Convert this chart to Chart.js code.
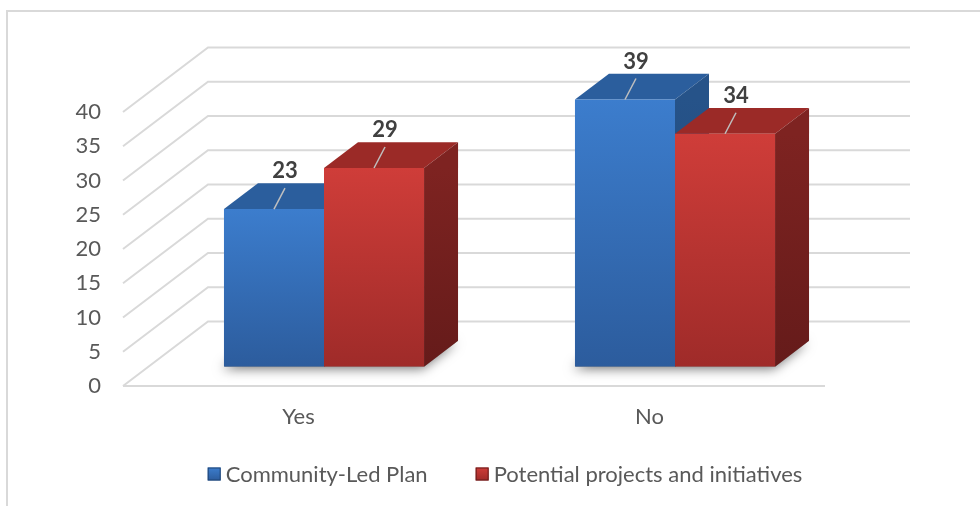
<!DOCTYPE html>
<html>
<head>
<meta charset="utf-8">
<script src="https://cdn.jsdelivr.net/npm/chart.js@4/dist/chart.umd.min.js"></script>
<style>
  html, body { margin: 0; padding: 0; background: #fff; }
  canvas { display: block; }
</style>
</head>
<body>
<canvas id="chart" width="980" height="506"></canvas>
<script>
const categories = ['Yes', 'No'];
const communityLedPlan = [23, 39];
const potentialProjects = [29, 34];
const yTicks = [0, 5, 10, 15, 20, 25, 30, 35, 40];
const seriesNames = ['Community-Led Plan', 'Potential projects and initiatives'];

// depth of the 3D floor, and where the bars sit inside it
const DEPTH = { x: 85, y: -64.5 };
const BAR_FRONT = 0.3;
const BAR_DEPTH = 0.4;

const FONT = 'Lato, "Open Sans", sans-serif';
const TEXT = '#595959';
const GRID = '#d9d9d9';

const colors = [
  { light: '#3c7dcd', dark: '#2c5c9d', top: '#2b5e9d', side: ['#265389', '#1f4474'] },
  { light: '#cf3d39', dark: '#9f2b29', top: '#9b2a27', side: ['#7e2321', '#651b1a'] }
];

function frontFill(i) {
  return (c) => {
    const chart = c.chart;
    const y = chart.scales && chart.scales.y;
    if (!y || typeof c.raw !== 'number') return colors[i].light;
    const t = y.getPixelForValue(c.raw), b = y.getPixelForValue(0);
    if (!Number.isFinite(t) || !Number.isFinite(b) || t === b) return colors[i].light;
    const g = chart.ctx.createLinearGradient(0, t, 0, b);
    g.addColorStop(0, colors[i].light);
    g.addColorStop(1, colors[i].dark);
    return g;
  };
}

// shift a point from the bar plane to another depth (0 = front edge, 1 = back wall)
function atDepth(x, y, d) {
  return [x + (d - BAR_FRONT) * DEPTH.x, y + (d - BAR_FRONT) * DEPTH.y];
}

function poly(ctx, pts, fill) {
  ctx.beginPath();
  ctx.moveTo(pts[0][0], pts[0][1]);
  for (let k = 1; k < pts.length; k++) ctx.lineTo(pts[k][0], pts[k][1]);
  ctx.closePath();
  ctx.fillStyle = fill;
  ctx.fill();
}

const box3d = {
  id: 'box3d',
  beforeDatasetsDraw(chart) {
    const { ctx, chartArea: a, scales: { y: ys } } = chart;
    ctx.save();

    // walls: back gridlines, left diagonals, front floor edge
    ctx.strokeStyle = GRID;
    ctx.lineWidth = 2;
    yTicks.forEach(v => {
      const yp = ys.getPixelForValue(v);
      const f = atDepth(a.left, yp, 0);
      const b = atDepth(a.left, yp, 1);
      const br = atDepth(a.right, yp, 1);
      ctx.beginPath();
      ctx.moveTo(f[0], f[1]);
      ctx.lineTo(b[0], b[1]);
      ctx.lineTo(br[0], br[1]);
      ctx.stroke();
    });
    const f0 = atDepth(a.left, ys.getPixelForValue(0), 0);
    const f1 = atDepth(a.right, ys.getPixelForValue(0), 0);
    ctx.beginPath();
    ctx.moveTo(f0[0], f0[1]);
    ctx.lineTo(f1[0], f1[1]);
    ctx.stroke();

    const dx = BAR_DEPTH * DEPTH.x, dy = BAR_DEPTH * DEPTH.y;
    const metas = chart.data.datasets.map((_, i) => chart.getDatasetMeta(i));

    // soft shadow under each pair of bars
    categories.forEach((_, j) => {
      const first = metas[0].data[j], last = metas[metas.length - 1].data[j];
      const l = first.x - first.width / 2, r = last.x + last.width / 2, base = first.base;
      ctx.save();
      ctx.shadowColor = 'rgba(0,0,0,0.55)';
      ctx.shadowBlur = 12;
      ctx.shadowOffsetX = -2;
      ctx.shadowOffsetY = 2;
      poly(ctx, [[l, base], [r, base], [r + dx, base + dy], [l + dx, base + dy]], '#888');
      ctx.restore();
    });

    // top and side faces; fronts are drawn by the bar elements
    categories.forEach((_, j) => {
      metas.forEach((m, i) => {
        const el = m.data[j];
        const l = el.x - el.width / 2, r = el.x + el.width / 2, t = el.y, b = el.base;
        poly(ctx, [[l, t], [r, t], [r + dx, t + dy], [l + dx, t + dy]], colors[i].top);
        const g = ctx.createLinearGradient(0, t, 0, b);
        g.addColorStop(0, colors[i].side[0]);
        g.addColorStop(1, colors[i].side[1]);
        poly(ctx, [[r, t], [r + dx, t + dy], [r + dx, b + dy], [r, b]], g);
      });
    });
    ctx.restore();
  },
  afterDatasetsDraw(chart) {
    const { ctx } = chart;
    ctx.save();
    ctx.font = 'bold 22px ' + FONT;
    ctx.textAlign = 'center';
    ctx.textBaseline = 'middle';
    chart.data.datasets.forEach((ds, i) => {
      chart.getDatasetMeta(i).data.forEach((el, j) => {
        const ex = el.x + 11, ey = el.y - 21;
        ctx.strokeStyle = '#bfbfbf';
        ctx.lineWidth = 1.5;
        ctx.beginPath();
        ctx.moveTo(el.x, el.y);
        ctx.lineTo(ex, ey);
        ctx.stroke();
        ctx.fillStyle = '#404040';
        ctx.fillText(String(ds.data[j]), ex, ey - 17);
      });
    });
    ctx.restore();
  },
  afterDraw(chart) {
    const { ctx, chartArea: a, scales: { x: xs, y: ys } } = chart;
    ctx.save();
    ctx.fillStyle = TEXT;
    ctx.font = '22px ' + FONT;

    // value axis, on the front edge
    ctx.textAlign = 'right';
    ctx.textBaseline = 'middle';
    yTicks.forEach(v => {
      const p = atDepth(a.left, ys.getPixelForValue(v), 0);
      ctx.fillText(String(v), 101, p[1]);
    });

    // categories, on the front edge
    ctx.textAlign = 'center';
    categories.forEach((c, j) => {
      const p = atDepth(xs.getPixelForValue(j), ys.getPixelForValue(0), 0);
      ctx.fillText(c, p[0], 417);
    });

    // legend
    const box = 13, gap = 5, spacing = 48, ly = 474;
    const widths = seriesNames.map(n => ctx.measureText(n).width);
    const total = widths.reduce((s, w) => s + box + gap + w, 0) + spacing * (seriesNames.length - 1);
    let lx = 505 - total / 2;
    ctx.textAlign = 'left';
    seriesNames.forEach((n, i) => {
      const g = ctx.createLinearGradient(lx, ly - box / 2, lx, ly + box / 2);
      g.addColorStop(0, colors[i].light);
      g.addColorStop(1, colors[i].dark);
      ctx.fillStyle = g;
      ctx.fillRect(lx, ly - box / 2, box, box);
      ctx.strokeStyle = colors[i].side[1];
      ctx.lineWidth = 1;
      ctx.strokeRect(lx + 0.5, ly - box / 2 + 0.5, box - 1, box - 1);
      ctx.fillStyle = TEXT;
      ctx.fillText(n, lx + box + gap, ly + 1);
      lx += box + gap + widths[i] + spacing;
    });

    // outer frame
    ctx.strokeStyle = GRID;
    ctx.lineWidth = 2;
    ctx.beginPath();
    ctx.moveTo(7, 506);
    ctx.lineTo(7, 11);
    ctx.lineTo(980, 11);
    ctx.stroke();
    ctx.restore();
  }
};

new Chart(document.getElementById('chart'), {
  type: 'bar',
  data: {
    labels: categories,
    datasets: [
      { label: seriesNames[0], data: communityLedPlan, backgroundColor: frontFill(0) },
      { label: seriesNames[1], data: potentialProjects, backgroundColor: frontFill(1) }
    ]
  },
  options: {
    responsive: false,
    devicePixelRatio: 1,
    animation: false,
    layout: { padding: { left: 148.5, right: 129.5, top: 92.65, bottom: 139.35 } },
    datasets: { bar: { categoryPercentage: 0.57, barPercentage: 1.0, borderWidth: 0 } },
    scales: {
      x: { display: false },
      y: { display: false, min: 0, max: 40, ticks: { stepSize: 5 } }
    },
    plugins: { legend: { display: false }, tooltip: { enabled: false } }
  },
  plugins: [box3d]
});
</script>
</body>
</html>
